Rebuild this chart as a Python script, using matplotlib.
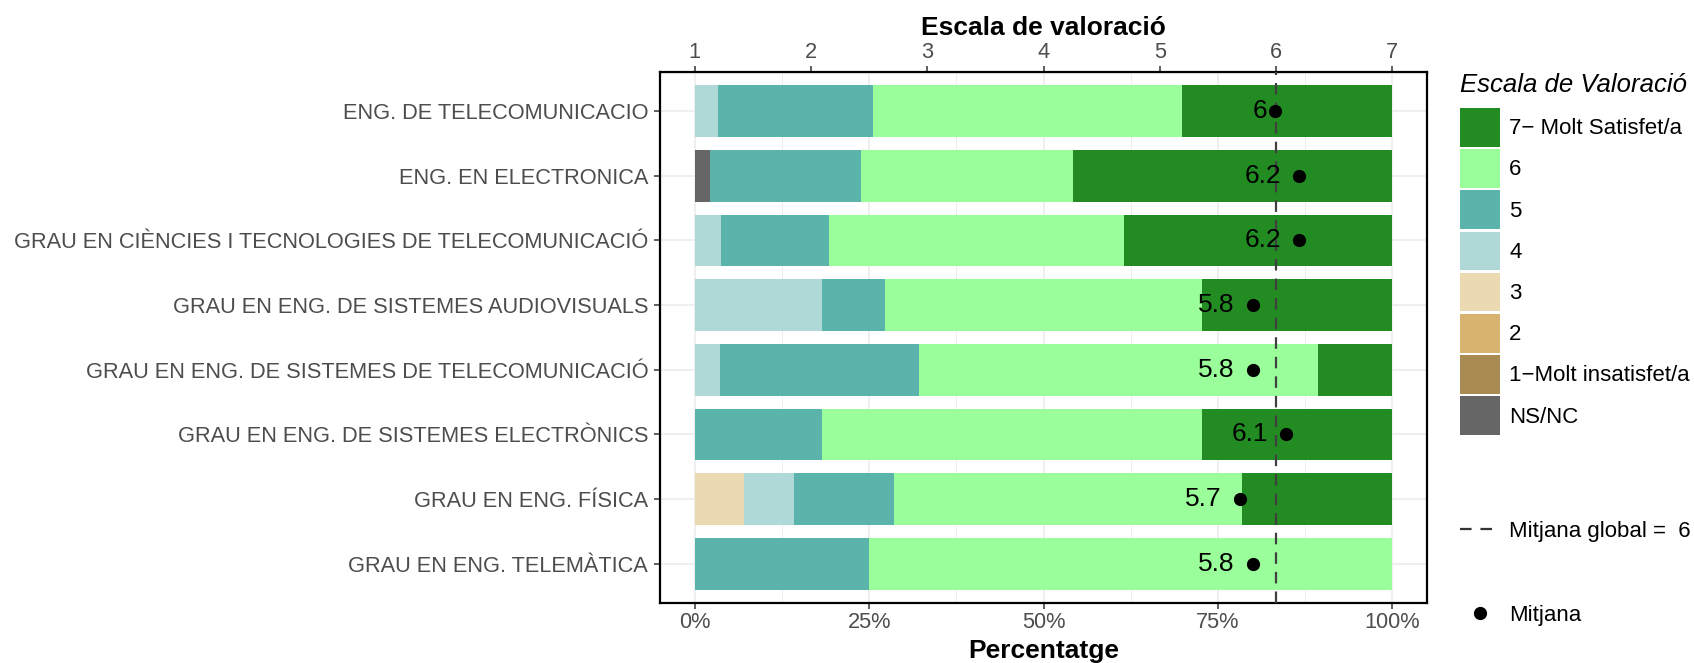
import matplotlib.pyplot as plt
import matplotlib.transforms as mtransforms
from matplotlib.patches import Patch
from matplotlib.lines import Line2D
from matplotlib.ticker import PercentFormatter

plt.rcParams['font.family'] = ['Liberation Sans', 'DejaVu Sans']

# titulacions, de dalt a baix
titulacions = [
    "ENG. DE TELECOMUNICACIO",
    "ENG. EN ELECTRONICA",
    "GRAU EN CIÈNCIES I TECNOLOGIES DE TELECOMUNICACIÓ",
    "GRAU EN ENG. DE SISTEMES AUDIOVISUALS",
    "GRAU EN ENG. DE SISTEMES DE TELECOMUNICACIÓ",
    "GRAU EN ENG. DE SISTEMES ELECTRÒNICS",
    "GRAU EN ENG. FÍSICA",
    "GRAU EN ENG. TELEMÀTICA",
]

# percentatges per nivell de valoració (apilats d'esquerra a dreta)
ns_nc = [0, 2.2, 0, 0, 0, 0, 0, 0]
v1 = [0, 0, 0, 0, 0, 0, 0, 0]
v2 = [0, 0, 0, 0, 0, 0, 0, 0]
v3 = [0, 0, 0, 0, 0, 0, 7.1, 0]
v4 = [3.3, 0, 3.8, 18.2, 3.6, 0, 7.1, 0]
v5 = [22.3, 21.6, 15.4, 9.1, 28.6, 18.2, 14.3, 25.0]
v6 = [44.2, 30.5, 42.3, 45.5, 57.1, 54.5, 50.0, 75.0]
v7 = [30.2, 45.7, 38.5, 27.2, 10.7, 27.3, 21.5, 0]

mitjanes = [5.99, 6.2, 6.2, 5.8, 5.8, 6.09, 5.69, 5.8]
mitjana_global = 6

nivells = ["NS/NC", "1\u2212Molt insatisfet/a", "2", "3", "4", "5", "6", "7\u2212 Molt Satisfet/a"]
colors = ["#666666", "#A98C52", "#D7B36F", "#EBD9B1", "#AED9D6", "#5AB4AC", "#9AFF9A", "#228B22"]

valors = [ns_nc, v1, v2, v3, v4, v5, v6, v7]

dash = (0, (5.2, 3.6))

fig = plt.figure(figsize=(16.94, 6.63), dpi=100)
ax = fig.add_axes([660 / 1694, 1 - 602.5 / 663, (1427 - 660) / 1694, (602.5 - 72.3) / 663])

y = list(range(len(titulacions)))
left = [0] * len(titulacions)
for vals, c in zip(valors, colors):
    ax.barh(y, vals, left=left, height=0.8, color=c, linewidth=0, zorder=2)
    left = [l + v for l, v in zip(left, vals)]

# escala 1-7 sobre 0-100%
def to_pct(s):
    return (s - 1) * 100 / 6

def to_scale(p):
    return 1 + p * 6 / 100

ax.axvline(to_pct(mitjana_global), color="#404040", lw=1.6, ls=dash, zorder=3)
ax.plot([to_pct(m) for m in mitjanes], y, "o", color="black", ms=8.5, zorder=4)

labels = []
for yi, m in zip(y, mitjanes):
    t = ax.text(to_pct(m), yi, f"{round(m, 1):g}", ha="right", va="center",
                fontsize=19, color="black", zorder=5)
    labels.append(t)

ax.set_xlim(-5, 105)
ax.set_ylim(len(titulacions) - 0.4, -0.6)
ax.set_yticks(y)
ax.set_yticklabels(titulacions)
ax.set_xticks([0, 25, 50, 75, 100])
ax.set_xticks([12.5, 37.5, 62.5, 87.5], minor=True)
ax.xaxis.set_major_formatter(PercentFormatter(decimals=0))
ax.tick_params(axis="both", which="major", labelsize=15.7, labelcolor="#4D4D4D",
               color="#333333", length=4, width=1.1, pad=3)
ax.tick_params(axis="y", pad=4.5)
ax.tick_params(axis="x", which="minor", length=0)
ax.grid(which="major", color="#EBEBEB", lw=1.1, zorder=0)
ax.grid(which="minor", axis="x", color="#EBEBEB", lw=0.6, zorder=0)
ax.set_axisbelow(True)
for s in ax.spines.values():
    s.set_linewidth(1.6)
    s.set_color("black")
ax.set_xlabel("Percentatge", fontsize=19, fontweight="bold", labelpad=4)

sec = ax.secondary_xaxis("top", functions=(to_scale, to_pct))
sec.set_xticks([1, 2, 3, 4, 5, 6, 7])
sec.tick_params(labelsize=15.7, labelcolor="#4D4D4D", color="#333333", length=4, width=1.1, pad=3)
sec.set_xlabel("Escala de valoració", fontsize=19, fontweight="bold", labelpad=5)

# llegendes
handles = [Patch(facecolor=c, edgecolor="none") for c in colors[::-1]]
leg1 = fig.legend(handles=handles, labels=nivells[::-1], title="Escala de Valoració",
                  loc="upper left", bbox_to_anchor=(1460 / 1694, 1 - 73 / 663),
                  frameon=False, fontsize=16, title_fontproperties={"size": 18.5, "style": "italic"},
                  handlelength=1.81, handleheight=2.29, labelspacing=0.12, handletextpad=0.4,
                  borderpad=0, borderaxespad=0, alignment="left")
leg1._legend_box.sep = 8
fig.legend(handles=[Line2D([], [], color="#333333", lw=1.6, ls=(0, (5.2, 4.0)))],
           labels=[f"Mitjana global =  {mitjana_global}"],
           loc="center left", bbox_to_anchor=(1460 / 1694, 1 - 531 / 663),
           frameon=False, fontsize=16, handlelength=1.81, handletextpad=0.4,
           borderpad=0, borderaxespad=0)
fig.legend(handles=[Line2D([], [], color="black", marker="o", ms=8.5, ls="none")],
           labels=["Mitjana"],
           loc="center left", bbox_to_anchor=(1460 / 1694, 1 - 615 / 663),
           frameon=False, fontsize=16, handlelength=1.81, handletextpad=0.4,
           borderpad=0, borderaxespad=0)

# etiquetes de la mitjana desplaçades mitja amplada a l'esquerra
fig.canvas.draw()
for t in labels:
    w = t.get_window_extent().width
    t.set_transform(t.get_transform() + mtransforms.ScaledTranslation(-w / 2 / fig.dpi, 0, fig.dpi_scale_trans))

fig.savefig("out.png", dpi=100)
